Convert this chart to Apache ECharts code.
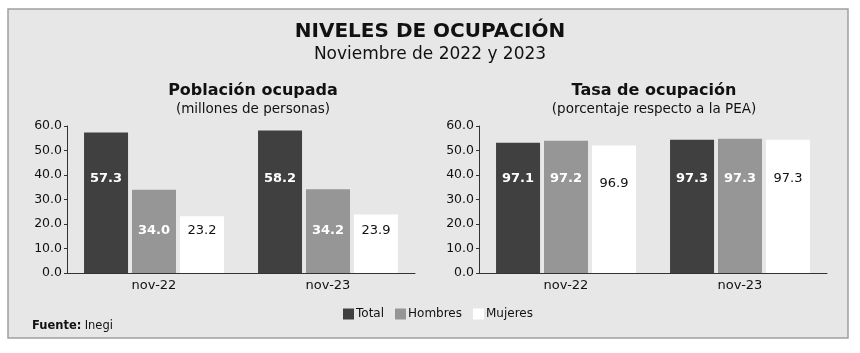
<!DOCTYPE html>
<html>
<head>
<meta charset="utf-8">
<title>Niveles de ocupación</title>
<script src="https://cdn.jsdelivr.net/npm/echarts@6/dist/echarts.min.js"></script>
<style>
html, body { margin: 0; padding: 0; background: #fff; }
#main { width: 860px; height: 353px; }
</style>
</head>
<body>
<div id="main"></div>
<script>
var categorias = ['nov-22', 'nov-23'];
var nombres = ['Total', 'Hombres', 'Mujeres'];
var colores = ['#404040', '#969696', '#ffffff'];

// Población ocupada (millones de personas)
var pobTotal = [57.3, 58.2];
var pobHombres = [34.0, 34.2];
var pobMujeres = [23.2, 23.9];

// Tasa de ocupación: altura de la barra tal como se dibuja (eje 0-60)
var tasaTotal = [53.2, 54.4];
var tasaHombres = [54.0, 54.8];
var tasaMujeres = [52.0, 54.4];
// ...y el valor que muestra la etiqueta
var tasaTotalEtq = ['97.1', '97.3'];
var tasaHombresEtq = ['97.2', '97.3'];
var tasaMujeresEtq = ['96.9', '97.3'];

var ejeMin = 0, ejeMax = 60, ejePaso = 10;

var fuente = 'DejaVu Sans';

function serie(nombre, idx, valores, etiquetas, eje, distancia) {
    var blanco = idx < 2;
    return {
        name: nombre,
        type: 'bar',
        xAxisIndex: eje,
        yAxisIndex: eje,
        barWidth: 44,
        barGap: '9%',
        itemStyle: { color: colores[idx] },
        label: {
            show: true,
            position: 'insideBottom',
            distance: distancia,
            color: blanco ? '#fff' : '#111',
            fontWeight: blanco ? 'bold' : 'normal',
            fontFamily: fuente,
            fontSize: 13,
            formatter: function (p) {
                return etiquetas ? etiquetas[p.dataIndex] : p.value.toFixed(1);
            }
        },
        data: valores
    };
}

function ejeX(i) {
    return {
        type: 'category',
        gridIndex: i,
        data: categorias,
        axisLine: { lineStyle: { color: '#333', width: 1 } },
        axisTick: { show: false },
        axisLabel: { color: '#111', fontFamily: fuente, fontSize: 13, margin: 6 }
    };
}

function ejeYv(i) {
    return {
        type: 'value',
        gridIndex: i,
        min: ejeMin,
        max: ejeMax,
        interval: ejePaso,
        axisLine: { show: true, lineStyle: { color: '#333', width: 1 } },
        axisTick: { show: true, length: 3, lineStyle: { color: '#333' } },
        splitLine: { show: false },
        axisLabel: {
            color: '#111', fontFamily: fuente, fontSize: 12.5, margin: 5,
            formatter: function (v) { return v.toFixed(1); }
        }
    };
}

var myChart = echarts.init(document.getElementById('main'));

var option = {
    backgroundColor: '#fff',
    animation: false,
    graphic: [{
        type: 'rect',
        z: -10,
        shape: { x: 8, y: 9, width: 840, height: 329 },
        style: { fill: '#e7e7e7', stroke: '#a0a0a0', lineWidth: 1.5 }
    }, {
        type: 'text',
        left: 32,
        top: 320,
        style: {
            text: '{b|Fuente:} {n|Inegi}',
            rich: {
                b: { fontFamily: fuente, fontSize: 11.5, fontWeight: 'bold', fill: '#111' },
                n: { fontFamily: fuente, fontSize: 11.5, fill: '#111' }
            }
        }
    }],
    title: [{
        text: 'NIVELES DE OCUPACIÓN',
        left: 'center',
        top: 17,
        textStyle: { fontFamily: fuente, fontSize: 20, fontWeight: 'bold', color: '#111' }
    }, {
        text: 'Noviembre de 2022 y 2023',
        left: 'center',
        top: 41,
        textStyle: { fontFamily: fuente, fontSize: 17, fontWeight: 'normal', color: '#111' }
    }, {
        text: 'Población ocupada',
        left: 248,
        textAlign: 'center',
        top: 78,
        textStyle: { fontFamily: fuente, fontSize: 16, fontWeight: 'bold', color: '#111' }
    }, {
        text: '(millones de personas)',
        left: 248,
        textAlign: 'center',
        top: 97,
        textStyle: { fontFamily: fuente, fontSize: 13.5, fontWeight: 'normal', color: '#111' }
    }, {
        text: 'Tasa de ocupación',
        left: 649,
        textAlign: 'center',
        top: 78,
        textStyle: { fontFamily: fuente, fontSize: 16, fontWeight: 'bold', color: '#111' }
    }, {
        text: '(porcentaje respecto a la PEA)',
        left: 649,
        textAlign: 'center',
        top: 97,
        textStyle: { fontFamily: fuente, fontSize: 13.5, fontWeight: 'normal', color: '#111' }
    }],
    legend: {
        data: nombres,
        left: 338,
        top: 303,
        icon: 'rect',
        itemWidth: 11,
        itemHeight: 11,
        itemGap: 11,
        textStyle: { fontFamily: fuente, fontSize: 12, color: '#111', padding: [0, 0, 0, -3] }
    },
    grid: [
        { left: 67, top: 126, width: 348, height: 147 },
        { left: 479, top: 126, width: 348, height: 147 }
    ],
    xAxis: [ejeX(0), ejeX(1)],
    yAxis: [ejeYv(0), ejeYv(1)],
    series: [
        serie('Total', 0, pobTotal, null, 0, 88),
        serie('Hombres', 1, pobHombres, null, 0, 36),
        serie('Mujeres', 2, pobMujeres, null, 0, 36),
        serie('Total', 0, tasaTotal, tasaTotalEtq, 1, 88),
        serie('Hombres', 1, tasaHombres, tasaHombresEtq, 1, 88),
        serie('Mujeres', 2, tasaMujeres, tasaMujeresEtq, 1, 88)
    ]
};

// la etiqueta 96.9 queda un poco más abajo en el original
option.series[5].data = tasaMujeres.map(function (v, i) {
    return i === 0 ? { value: v, label: { distance: 83 } } : v;
});

myChart.setOption(option);
</script>
</body>
</html>
